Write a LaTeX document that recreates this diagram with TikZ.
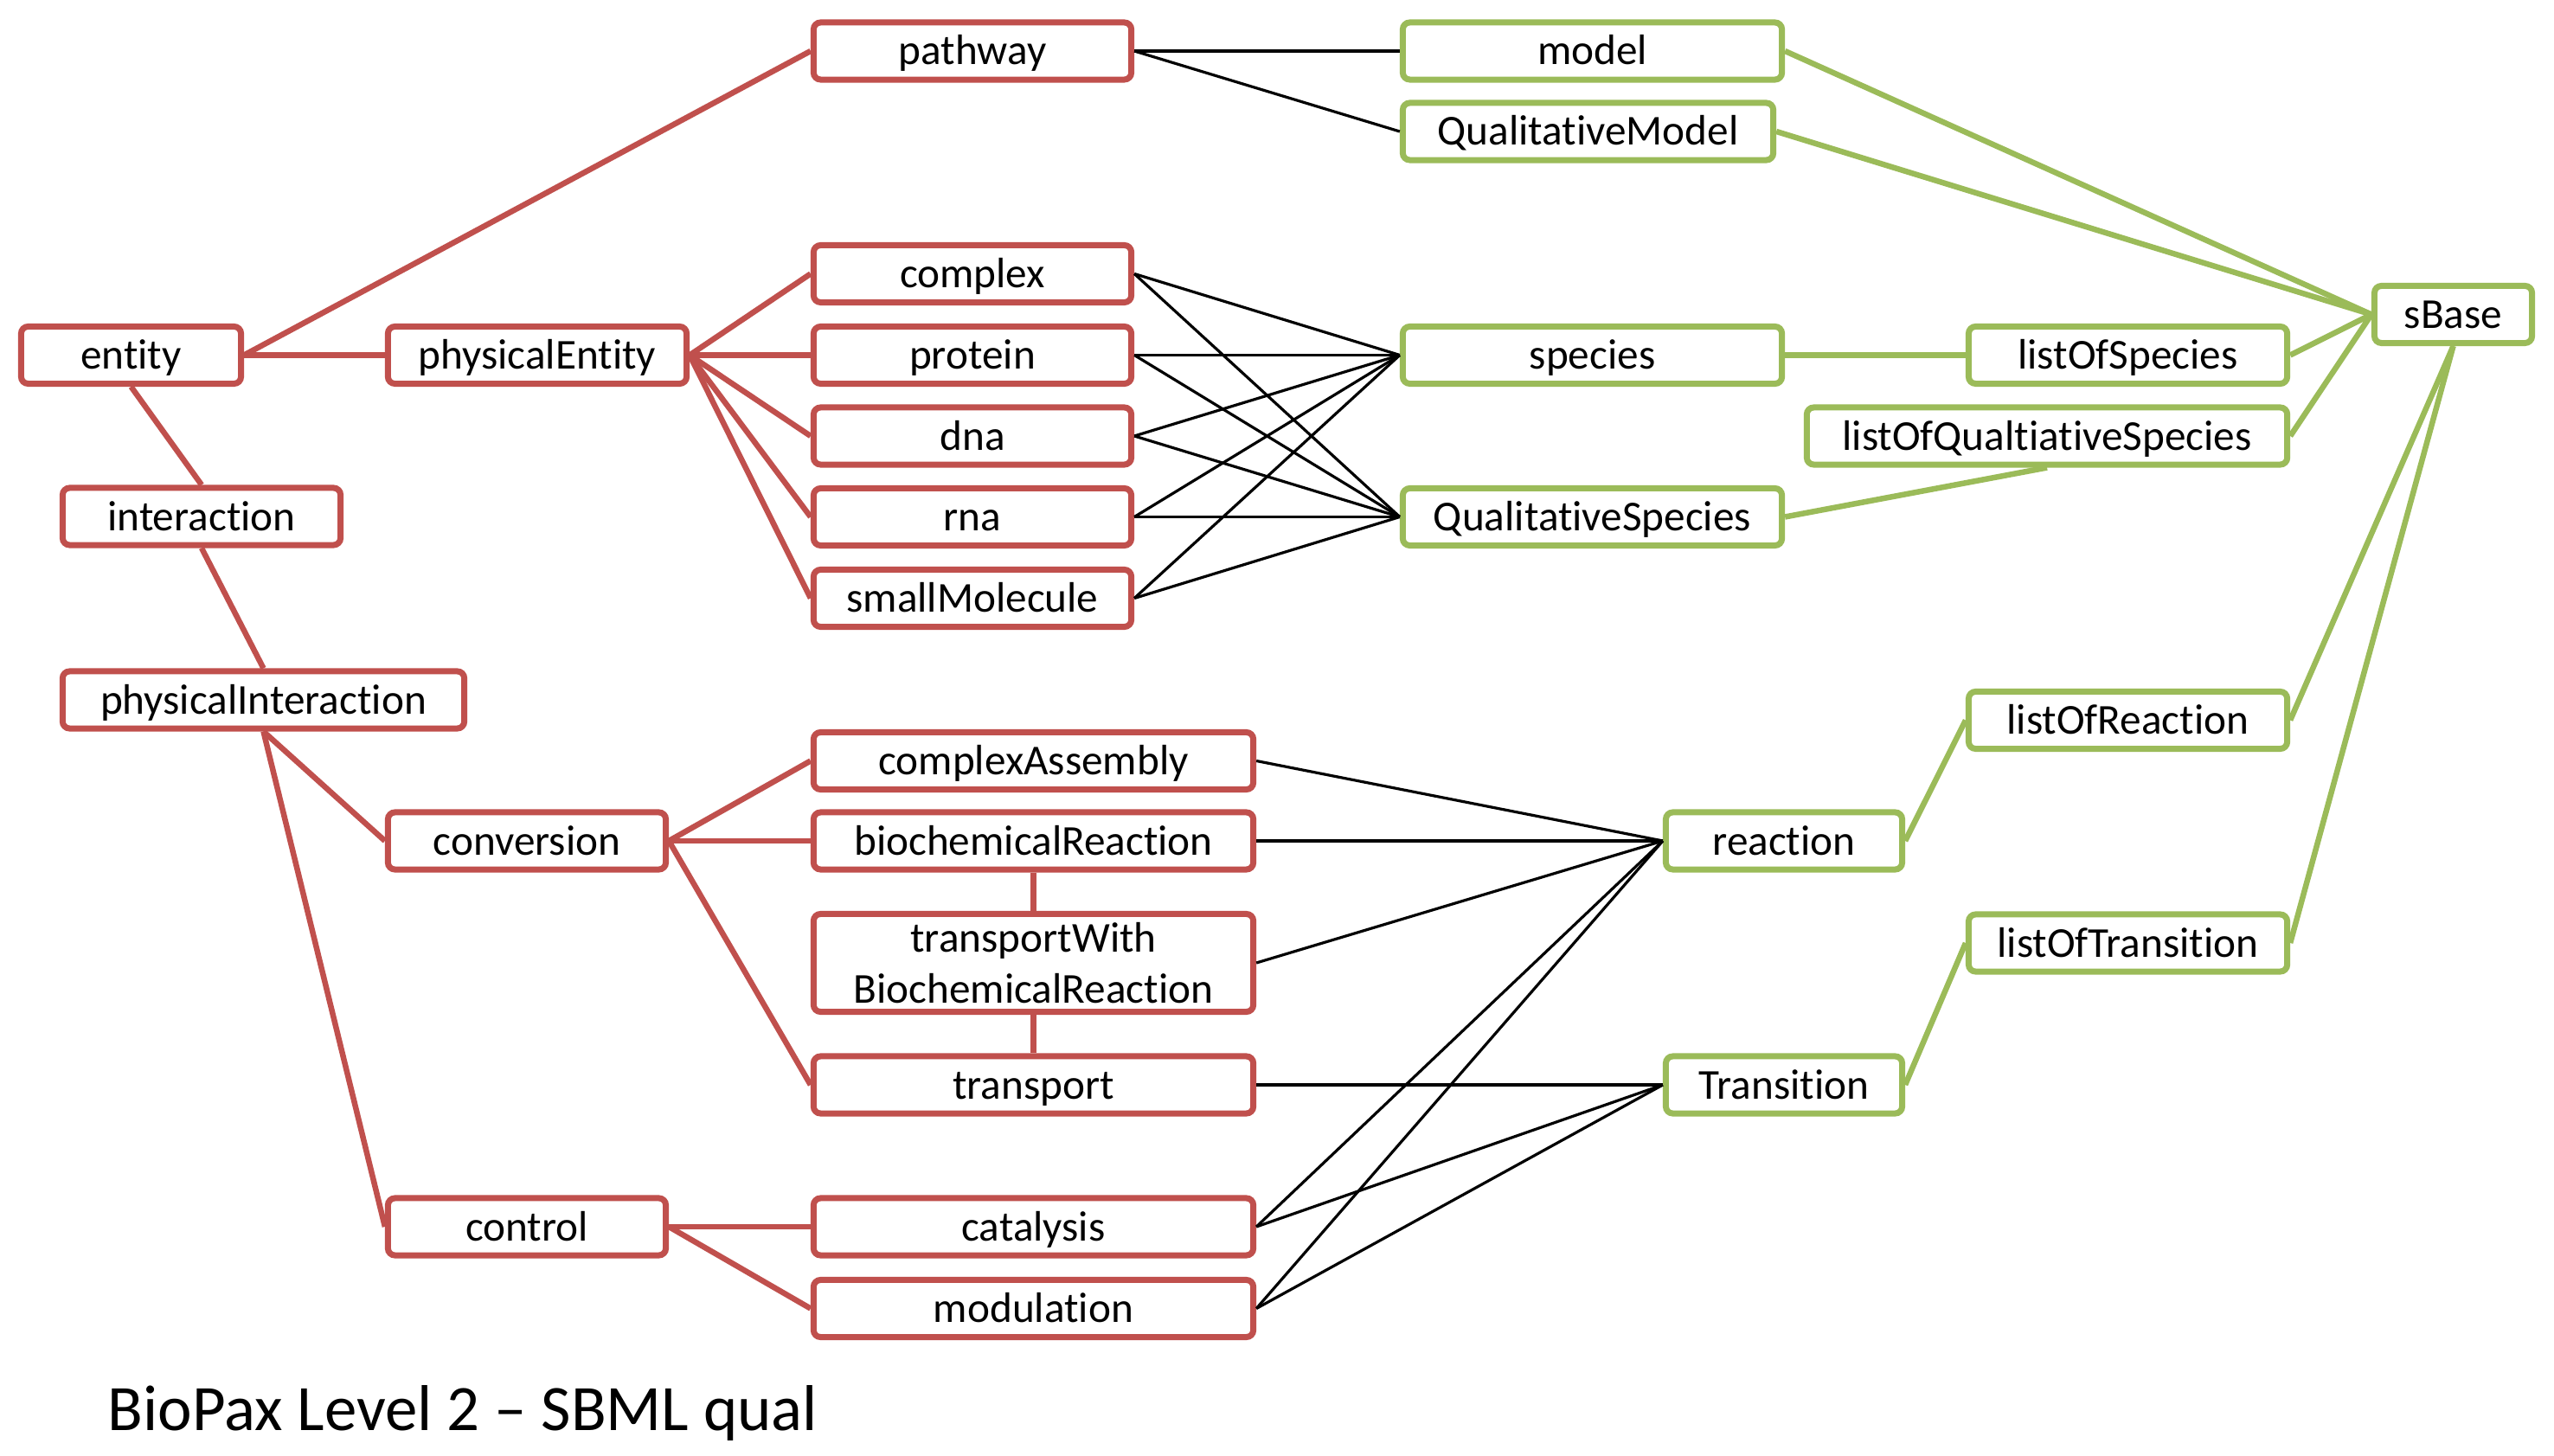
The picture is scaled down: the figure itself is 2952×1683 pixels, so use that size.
\documentclass[tikz,border=0pt]{standalone}
\usepackage{fontspec}
\setmainfont[Ligatures=NoCommon]{Carlito}
\usepackage{tikz}
\usetikzlibrary{positioning}
\definecolor{bpred}{HTML}{C0504D}
\definecolor{sbgreen}{HTML}{9BBB59}
\tikzset{cls/.style={draw, line width=0.07cm, rounded corners=0.08cm, fill=white, inner sep=0pt, minimum height=0.66cm, font=\fontsize{14}{16.8}\selectfont}}
\tikzset{bp/.style={cls, draw=bpred, text height=0.41cm, text depth=0.09cm}}
\tikzset{sb/.style={cls, draw=sbgreen, text height=0.41cm, text depth=0.09cm}}
\tikzset{bplink/.style={draw=bpred, line width=0.065cm}}
\tikzset{sblink/.style={draw=sbgreen, line width=0.065cm}}
\tikzset{map/.style={draw=black, line width=0.032cm}}

\begin{document}
\begin{tikzpicture}[x=0.01cm, y=-0.01cm]
	\useasboundingbox (0,0) rectangle (2952,1683);
	% BioPax Level 2
	\node[bp, minimum width=3.67cm] (pathway) at (1124,59) {pathway};
	\node[bp, minimum width=2.54cm] (entity) at (151.5,410.5) {entity};
	\node[bp, minimum width=3.45cm] (physEntity) at (621,410.5) {physicalEntity};
	\node[bp, minimum width=3.67cm] (complex) at (1124,316.5) {complex};
	\node[bp, minimum width=3.67cm] (protein) at (1124,410.5) {protein};
	\node[bp, minimum width=3.67cm] (dna) at (1124,504) {dna};
	\node[bp, minimum width=3.67cm] (rna) at (1124,597.5) {rna};
	\node[bp, minimum width=3.67cm] (smallMol) at (1124,691.5) {smallMolecule};
	\node[bp, minimum width=3.21cm] (interaction) at (233,597) {interaction};
	\node[bp, minimum width=4.64cm] (physInter) at (304.5,809) {physicalInteraction};
	\node[bp, minimum width=3.21cm] (conversion) at (609,972) {conversion};
	\node[bp, minimum width=5.08cm] (cplxAssembly) at (1194.5,879.5) {complexAssembly};
	\node[bp, minimum width=5.08cm] (biochemReact) at (1194.5,972) {biochemicalReaction};
	\node[cls, draw=bpred, align=center, minimum width=5.08cm, minimum height=1.13cm] (transportBR) at (1194.5,1113) {transportWith\\BiochemicalReaction};
	\node[bp, minimum width=5.08cm] (transport) at (1194.5,1254) {transport};
	\node[bp, minimum width=3.21cm] (control) at (609,1418) {control};
	\node[bp, minimum width=5.08cm] (catalysis) at (1194.5,1418) {catalysis};
	\node[bp, minimum width=5.08cm] (modulation) at (1194.5,1512.5) {modulation};

	% SBML qual
	\node[sb, minimum width=4.38cm] (model) at (1840.5,59) {model};
	\node[sb, minimum width=4.28cm] (qualModel) at (1835.5,152) {QualitativeModel};
	\node[sb, minimum width=4.38cm] (species) at (1840.5,410.5) {species};
	\node[sb, minimum width=4.38cm] (qualSpecies) at (1840.5,597.5) {QualitativeSpecies};
	\node[sb, minimum width=3.68cm] (listSpecies) at (2459.5,410.5) {listOfSpecies};
	\node[sb, minimum width=5.55cm] (listQualSpecies) at (2366,504) {listOfQualtiativeSpecies};
	\node[sb, minimum width=1.82cm] (sBase) at (2835.5,363.5) {sBase};
	\node[sb, minimum width=3.68cm] (listReaction) at (2459.5,832.5) {listOfReaction};
	\node[sb, minimum width=3.68cm] (listTransition) at (2459.5,1090) {listOfTransition};
	\node[sb, minimum width=2.73cm] (reaction) at (2062,972) {reaction};
	\node[sb, minimum width=2.73cm] (transition) at (2062,1254) {Transition};

	\draw[bplink] (entity.east) -- (pathway.west);
	\draw[bplink] (entity.east) -- (physEntity.west);
	\draw[bplink] (entity.south) -- (interaction.north);
	\draw[bplink] (interaction.south) -- (physInter.north);
	\draw[bplink] (physEntity.east) -- (complex.west);
	\draw[bplink] (physEntity.east) -- (protein.west);
	\draw[bplink] (physEntity.east) -- (dna.west);
	\draw[bplink] (physEntity.east) -- (rna.west);
	\draw[bplink] (physEntity.east) -- (smallMol.west);
	\draw[bplink] (physInter.south) -- (conversion.west);
	\draw[bplink] (physInter.south) -- (control.west);
	\draw[bplink] (conversion.east) -- (cplxAssembly.west);
	\draw[bplink] (conversion.east) -- (biochemReact.west);
	\draw[bplink] (conversion.east) -- (transport.west);
	\draw[bplink] (biochemReact.south) -- (transportBR.north);
	\draw[bplink] (transportBR.south) -- (transport.north);
	\draw[bplink] (control.east) -- (catalysis.west);
	\draw[bplink] (control.east) -- (modulation.west);

	\draw[sblink] (model.east) -- (sBase.west);
	\draw[sblink] (qualModel.east) -- (sBase.west);
	\draw[sblink] (species.east) -- (listSpecies.west);
	\draw[sblink] (listSpecies.east) -- (sBase.west);
	\draw[sblink] (listQualSpecies.east) -- (sBase.west);
	\draw[sblink] (qualSpecies.east) -- (listQualSpecies.south);
	\draw[sblink] (reaction.east) -- (listReaction.west);
	\draw[sblink] (listReaction.east) -- (sBase.south);
	\draw[sblink] (transition.east) -- (listTransition.west);
	\draw[sblink] (listTransition.east) -- (sBase.south);

	% mapping
	\draw[map] (pathway.east) -- (model.west);
	\draw[map] (pathway.east) -- (qualModel.west);
	\draw[map] (complex.east) -- (species.west);
	\draw[map] (complex.east) -- (qualSpecies.west);
	\draw[map] (protein.east) -- (species.west);
	\draw[map] (protein.east) -- (qualSpecies.west);
	\draw[map] (dna.east) -- (species.west);
	\draw[map] (dna.east) -- (qualSpecies.west);
	\draw[map] (rna.east) -- (species.west);
	\draw[map] (rna.east) -- (qualSpecies.west);
	\draw[map] (smallMol.east) -- (species.west);
	\draw[map] (smallMol.east) -- (qualSpecies.west);
	\draw[map] (cplxAssembly.east) -- (reaction.west);
	\draw[map] (biochemReact.east) -- (reaction.west);
	\draw[map] (transportBR.east) -- (reaction.west);
	\draw[map] (transport.east) -- (transition.west);
	\draw[map] (catalysis.east) -- (reaction.west);
	\draw[map] (catalysis.east) -- (transition.west);
	\draw[map] (modulation.east) -- (reaction.west);
	\draw[map] (modulation.east) -- (transition.west);

	\node[anchor=base west, inner sep=0pt, font=\fontsize{21.3}{25}\selectfont] (title) at (124,1653) {BioPax Level 2 – SBML qual};
\end{tikzpicture}
\end{document}
